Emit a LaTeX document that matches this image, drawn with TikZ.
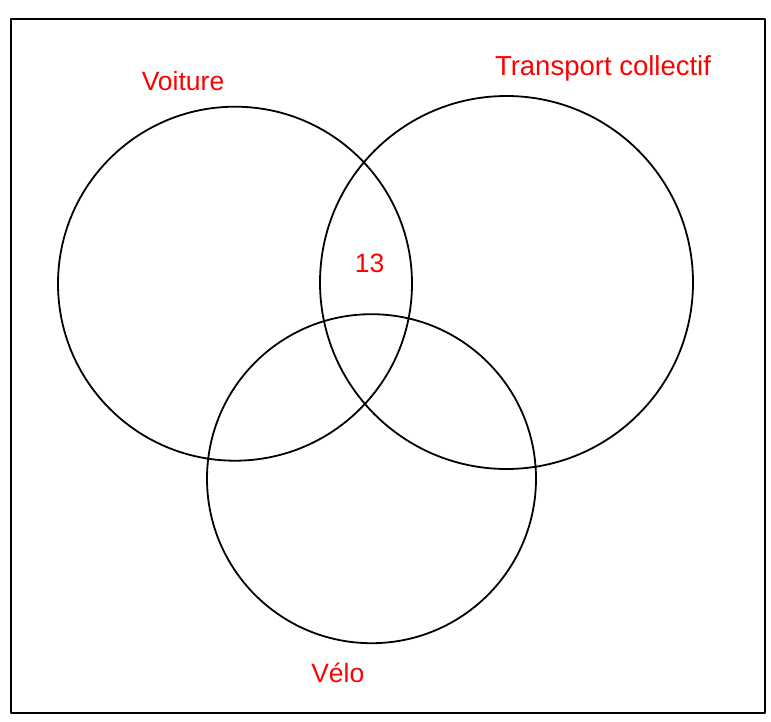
\documentclass[tikz,border=0pt]{standalone}
\usepackage{fontspec}
\setmainfont{Liberation Sans}
\begin{document}
\begin{tikzpicture}[x=1pt, y=-1pt, line join=round, line cap=round,
 ens/.style={draw, circle, line width=1.8pt, inner sep=0pt, outer sep=0pt},
 lab/.style={text=red, anchor=base, inner sep=0pt, font=\fontsize{26.5}{30}\selectfont}]
 \useasboundingbox (0,0) rectangle (771,722);
 \draw[line width=2pt] (10.5,19) rectangle (765,712.5);
 \node[ens, minimum size=354pt] (voiture) at (235,283.7) {};
 \node[ens, minimum size=373pt] (transport) at (506.5,282.5) {};
 \node[ens, minimum size=329pt] (velo) at (371.5,478.7) {};
 \node[lab] (lvoiture) at (183,90.7) {Voiture};
 \node[lab, font=\fontsize{27.5}{30}\selectfont] (ltransport) at (603,76) {Transport collectif};
 \node[lab] (lvelo) at (337.8,682.7) {Vélo};
 \node[lab] (ltrois) at (369.7,272.7) {13};
\end{tikzpicture}
\end{document}
